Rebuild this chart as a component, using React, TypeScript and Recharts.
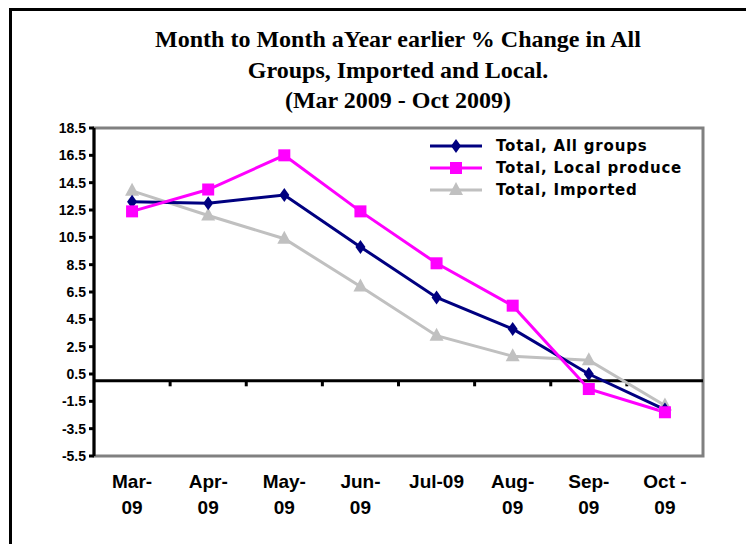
import React from 'react';
import { LineChart, Line, XAxis, YAxis, ReferenceLine, ReferenceArea } from 'recharts';

const months = ['Mar-09', 'Apr-09', 'May-09', 'Jun-09', 'Jul-09', 'Aug-09', 'Sep-09', 'Oct-09'];
const monthLabelLines = [
  ['Mar-', '09'],
  ['Apr-', '09'],
  ['May-', '09'],
  ['Jun-', '09'],
  ['Jul-09'],
  ['Aug-', '09'],
  ['Sep-', '09'],
  ['Oct -', '09'],
];
const allGroups = [13.1, 13.0, 13.6, 9.8, 6.1, 3.8, 0.5, -2.1];
const localProduce = [12.4, 14.0, 16.5, 12.4, 8.6, 5.5, -0.6, -2.3];
const imported = [13.9, 12.1, 10.4, 6.9, 3.3, 1.8, 1.5, -1.8];
const yTicks = [18.5, 16.5, 14.5, 12.5, 10.5, 8.5, 6.5, 4.5, 2.5, 0.5, -1.5, -3.5, -5.5];
const boundaries = [0.5, 1.5, 2.5, 3.5, 4.5, 5.5, 6.5];

const data = months.map((m, i) => ({
  idx: i,
  month: m,
  all: allGroups[i],
  local: localProduce[i],
  imported: imported[i],
}));

const BLUE = '#000080';
const PINK = '#ff00ff';
const GRAY = '#c0c0c0';

const Diamond = (props: any) => {
  const { cx, cy, fill } = props;
  if (cx == null || cy == null) return null;
  return <polygon points={`${cx},${cy - 7} ${cx + 5},${cy} ${cx},${cy + 7} ${cx - 5},${cy}`} fill={fill} />;
};
const Square = (props: any) => {
  const { cx, cy, fill } = props;
  if (cx == null || cy == null) return null;
  return <rect x={cx - 6} y={cy - 6} width={12} height={12} fill={fill} />;
};
const Triangle = (props: any) => {
  const { cx, cy, fill } = props;
  if (cx == null || cy == null) return null;
  return <polygon points={`${cx},${cy - 8} ${cx + 7},${cy + 5} ${cx - 7},${cy + 5}`} fill={fill} />;
};

const series = [
  { key: 'all', name: 'Total, All groups', color: BLUE, Marker: Diamond },
  { key: 'local', name: 'Total, Local produce', color: PINK, Marker: Square },
  { key: 'imported', name: 'Total, Imported', color: GRAY, Marker: Triangle },
];

const LegendBox = () => (
  <div style={{ position: 'absolute', left: 426, top: 135 }}>
    {series.map((s) => (
      <div key={s.key} style={{ display: 'flex', alignItems: 'center', height: 22 }}>
        <svg width={70} height={22}>
          <line x1={4} y1={11} x2={56} y2={11} stroke={s.color} strokeWidth={3} />
          <s.Marker cx={30} cy={11} fill={s.color} />
        </svg>
        <span
          style={{
            fontFamily: 'DejaVu Sans',
            fontWeight: 'bold',
            fontSize: 15,
            letterSpacing: 0.8,
            color: '#000',
          }}
        >
          {s.name}
        </span>
      </div>
    ))}
  </div>
);

const MonthTick = (props: any) => {
  const { x, y, payload } = props;
  const lines = monthLabelLines[payload.value] || [];
  return (
    <g>
      {lines.map((l, i) => (
        <text
          key={i}
          x={x}
          y={y + 32 + i * 26}
          textAnchor="middle"
          fontFamily="Liberation Sans"
          fontWeight="bold"
          fontSize={19}
          fill="#000"
        >
          {l}
        </text>
      ))}
    </g>
  );
};

const titleStyle: React.CSSProperties = {
  position: 'absolute',
  left: 0,
  width: 796,
  textAlign: 'center',
  fontFamily: 'Liberation Serif',
  fontWeight: 'bold',
  fontSize: 24,
  color: '#000',
  whiteSpace: 'nowrap',
};

export default function App() {
  return (
    <div style={{ position: 'absolute', left: 0, top: 0, width: 746, height: 544, overflow: 'hidden', background: '#fff' }}>
      <div
        style={{
          position: 'absolute',
          left: 9,
          top: 8,
          width: 800,
          height: 600,
          borderLeft: '3px solid #000',
          borderTop: '3px solid #000',
        }}
      />
      <div style={{ ...titleStyle, top: 26 }}>Month to Month aYear earlier % Change in All</div>
      <div style={{ ...titleStyle, top: 57 }}>Groups, Imported and Local.</div>
      <div style={{ ...titleStyle, top: 87 }}>(Mar 2009 - Oct 2009)</div>
      <div style={{ position: 'absolute', left: 0, top: 0 }}>
        <LineChart width={746} height={544} data={data} margin={{ top: 128, right: 43, bottom: 28, left: 54 }}>
          <ReferenceArea y1={-5.5} y2={18.5} fill="none" stroke="#808080" strokeWidth={3} ifOverflow="visible" />
          <XAxis
            type="number"
            dataKey="idx"
            domain={[-0.5, 7.5]}
            ticks={[0, 1, 2, 3, 4, 5, 6, 7]}
            axisLine={false}
            tickLine={false}
            tickSize={0}
            tickMargin={0}
            height={60}
            tick={<MonthTick />}
            interval={0}
          />
          <YAxis
            type="number"
            domain={[-5.5, 18.5]}
            ticks={yTicks}
            interval={0}
            width={40}
            axisLine={{ stroke: '#000', strokeWidth: 3 }}
            tickLine={{ stroke: '#000', strokeWidth: 3 }}
            tickSize={5}
            tickMargin={3}
            tick={{ fontFamily: 'Liberation Sans', fontWeight: 'bold', fontSize: 14, fill: '#000' }}
            tickFormatter={(v: number) => v.toFixed(1)}
          />
          <ReferenceLine y={0} stroke="#000" strokeWidth={3} />
          {boundaries.map((b) => (
            <ReferenceLine
              key={b}
              segment={[
                { x: b, y: 0 },
                { x: b, y: -0.4 },
              ]}
              stroke="#000"
              strokeWidth={3}
            />
          ))}
          <Line
            dataKey="imported"
            name="Total, Imported"
            stroke={GRAY}
            strokeWidth={3}
            dot={<Triangle fill={GRAY} />}
            isAnimationActive={false}
          />
          <Line
            dataKey="all"
            name="Total, All groups"
            stroke={BLUE}
            strokeWidth={3}
            dot={<Diamond fill={BLUE} />}
            isAnimationActive={false}
          />
          <Line
            dataKey="local"
            name="Total, Local produce"
            stroke={PINK}
            strokeWidth={3}
            dot={<Square fill={PINK} />}
            isAnimationActive={false}
          />
        </LineChart>
      </div>
      <LegendBox />
    </div>
  );
}
